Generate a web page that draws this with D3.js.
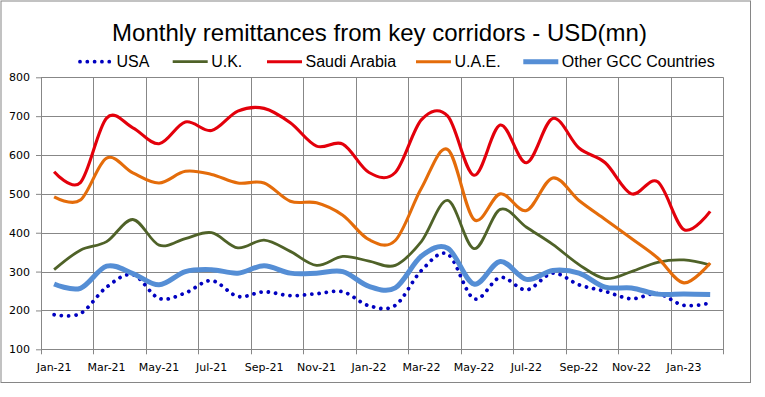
<!DOCTYPE html>
<html>
<head>
<meta charset="utf-8">
<script src="https://cdn.jsdelivr.net/npm/d3@7"></script>
<style>
  html, body { margin: 0; padding: 0; background: #fff; }
  svg { display: block; }
</style>
</head>
<body>
<div id="chart"></div>
<script>
// Monthly remittances from key corridors, USD(mn), Jan-21 .. Feb-23
const months = ["Jan-21","Feb-21","Mar-21","Apr-21","May-21","Jun-21","Jul-21","Aug-21","Sep-21","Oct-21","Nov-21","Dec-21",
  "Jan-22","Feb-22","Mar-22","Apr-22","May-22","Jun-22","Jul-22","Aug-22","Sep-22","Oct-22","Nov-22","Dec-22",
  "Jan-23","Feb-23"];

const usa      = [189,192,260,292,231,245,277,236,248,238,243,248,212,213,303,345,230,285,253,296,266,249,230,243,213,219];
const uk       = [305,355,377,434,368,385,400,361,381,352,316,339,327,316,378,483,359,460,414,370,318,282,300,324,330,317];
const saudi    = [557,529,695,670,629,685,663,713,720,683,623,628,555,555,691,700,548,677,580,694,618,580,500,531,408,455];
const uae      = [492,484,592,554,528,558,550,528,528,481,477,445,382,380,515,614,434,500,457,541,483,434,385,335,271,322];
const otherGcc = [268,257,314,295,266,300,305,296,315,296,296,300,262,258,340,360,268,326,280,303,296,260,258,242,242,241];

const seriesNames = ["USA", "U.K.", "Saudi Arabia", "U.A.E.", "Other GCC Countries"];
const yTicks = [100, 200, 300, 400, 500, 600, 700, 800];

const W = 765, H = 397;
const PLOT = { left: 41, right: 723.3, top: 77.3, bottom: 349.3 };
const GRID = "#878787";
const FONT_AXIS = "'DejaVu Sans', Verdana, sans-serif";
const FONT_TEXT = "'Liberation Sans', Arial, sans-serif";

const styles = [
  { color: "#0000c0", width: 3.8, dash: "0.01,7.3", cap: "round" },
  { color: "#4f6228", width: 2.8 },
  { color: "#e3000b", width: 3.1 },
  { color: "#e46c0a", width: 3.1 },
  { color: "#558ed5", width: 5 },
];
const LEGEND_X = [78, 172.7, 267, 416, 523.3];

const svg = d3.select("#chart").append("svg")
  .attr("width", W).attr("height", H);

svg.append("rect").attr("x", 1).attr("y", 1).attr("width", 749.5).attr("height", 381.5)
  .attr("fill", "#fff").attr("stroke", "#868686").attr("stroke-width", 1);

const x = d3.scaleBand().domain(months).range([PLOT.left, PLOT.right]).padding(0);
const cx = m => x(m) + x.bandwidth() / 2;
const y = d3.scaleLinear().domain([100, 800]).range([PLOT.bottom, PLOT.top]);

// horizontal grid + y axis
svg.append("g").attr("transform", `translate(${PLOT.left},0)`)
  .call(d3.axisLeft(y).tickValues(yTicks).tickSize(5).tickPadding(6))
  .call(ax => ax.select(".domain").remove())
  .call(ax => ax.selectAll(".tick line").attr("stroke", GRID))
  .call(ax => ax.selectAll(".tick text").attr("font-family", FONT_AXIS).attr("font-size", "11px").attr("fill", "#000"));
svg.append("g").selectAll("line").data(yTicks).join("line")
  .attr("x1", PLOT.left).attr("x2", PLOT.right)
  .attr("y1", d => Math.round(y(d)) + 0.5).attr("y2", d => Math.round(y(d)) + 0.5)
  .attr("stroke", GRID).attr("stroke-width", 1);

// vertical grid every 2 months, plus the right edge
const boundaries = months.filter((m, i) => i % 2 === 0).map(m => x(m)).concat([PLOT.right]);
svg.append("g").selectAll("line").data(boundaries).join("line")
  .attr("x1", d => Math.round(d) + 0.5).attr("x2", d => Math.round(d) + 0.5)
  .attr("y1", PLOT.top).attr("y2", PLOT.bottom + 5)
  .attr("stroke", GRID).attr("stroke-width", 1);

// x labels on every other month
svg.append("g").selectAll("text").data(months.filter((m, i) => i % 2 === 0)).join("text")
  .attr("x", d => cx(d)).attr("y", PLOT.bottom + 22)
  .attr("text-anchor", "middle").attr("font-family", FONT_AXIS).attr("font-size", "11px")
  .attr("fill", "#000").text(d => d);

// series
const allSeries = [usa, uk, saudi, uae, otherGcc];
const line = d3.line()
  .x((d, i) => cx(months[i]))
  .y(d => y(d))
  .curve(d3.curveCatmullRom.alpha(0));

allSeries.forEach((vals, k) => {
  const s = styles[k];
  svg.append("path").datum(vals)
    .attr("d", line).attr("fill", "none")
    .attr("stroke", s.color).attr("stroke-width", s.width)
    .attr("stroke-linecap", s.cap || "butt").attr("stroke-linejoin", "round")
    .attr("stroke-dasharray", s.dash || null);
});

// title
svg.append("text").attr("x", 379.5).attr("y", 41)
  .attr("text-anchor", "middle").attr("font-family", FONT_TEXT).attr("font-size", "24px")
  .attr("fill", "#000").text("Monthly remittances from key corridors - USD(mn)");

// legend
const leg = svg.append("g");
seriesNames.forEach((name, k) => {
  const s = styles[k];
  const lx = LEGEND_X[k];
  leg.append("line").attr("x1", lx + (s.dash ? 2 : 0)).attr("x2", lx + 35)
    .attr("y1", 61.7).attr("y2", 61.7)
    .attr("stroke", s.color).attr("stroke-width", s.width)
    .attr("stroke-linecap", s.cap || "butt")
    .attr("stroke-dasharray", s.dash || null);
  leg.append("text").attr("x", lx + 38.5).attr("y", 67)
    .attr("font-family", FONT_TEXT).attr("font-size", "16px").attr("fill", "#000")
    .text(name);
});
</script>
</body>
</html>
